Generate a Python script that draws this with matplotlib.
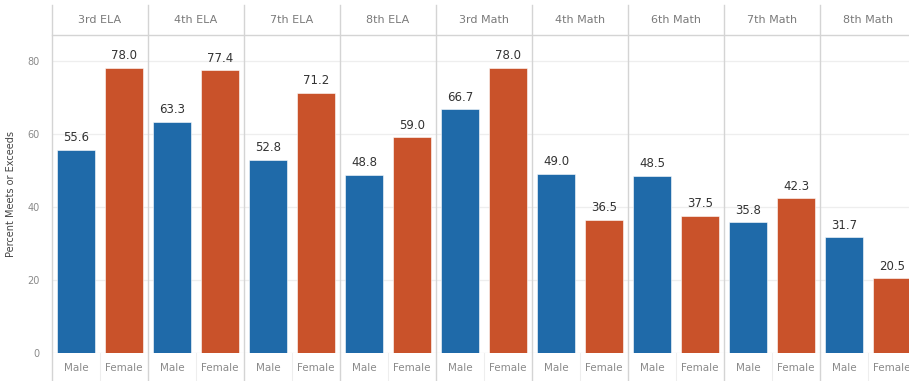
import matplotlib
matplotlib.use("Agg")
import matplotlib.pyplot as plt
import numpy as np

# chart data
subjects = ["3rd ELA", "4th ELA", "7th ELA", "8th ELA", "3rd Math",
            "4th Math", "6th Math", "7th Math", "8th Math"]
genders = ["Male", "Female"]
male_pct = [55.6, 63.3, 52.8, 48.8, 66.7, 49.0, 48.5, 35.8, 31.7]
female_pct = [78.0, 77.4, 71.2, 59.0, 78.0, 36.5, 37.5, 42.3, 20.5]
y_ticks = [0, 20, 40, 60, 80]

BLUE = "#1f6aa9"
ORANGE = "#c9522a"
LINE = "#d4d4d4"

fig = plt.figure(figsize=(9.09, 3.81), dpi=100)
# panels are ~96px wide; the last one runs slightly past the right edge
ax = fig.add_axes([52 / 909, 28 / 381, 864 / 909, 318 / 381])

n = len(subjects)
pos = np.arange(n)
bw = 0.39
male_bars = ax.bar(pos + 0.25, male_pct, bw, color=BLUE, edgecolor="white", linewidth=0.4, zorder=3)
female_bars = ax.bar(pos + 0.75, female_pct, bw, color=ORANGE, edgecolor="white", linewidth=0.4, zorder=3)

# value labels above bars
for bars in (male_bars, female_bars):
    for b in bars:
        h = b.get_height()
        ax.annotate(f"{h:.1f}", (b.get_x() + b.get_width() / 2, h),
                    xytext=(0, 4), textcoords="offset points",
                    ha="center", va="bottom", fontsize=8.5, color="#333333")

ax.set_xlim(0, n)
ax.set_ylim(0, 87)
ax.set_yticks(y_ticks)
ax.set_yticklabels([str(t) for t in y_ticks])
ax.tick_params(axis="y", length=0, pad=9, labelsize=7, labelcolor="#8a8a8a")

xt = np.concatenate([pos + 0.25, pos + 0.75])
xl = [genders[0]] * n + [genders[1]] * n
ax.set_xticks(xt)
ax.set_xticklabels(xl)
ax.tick_params(axis="x", length=0, pad=7, labelsize=7.5, labelcolor="#8a8a8a")

ax.set_ylabel("Percent Meets or Exceeds", fontsize=7, color="#444444", labelpad=8)

for s in ax.spines.values():
    s.set_visible(False)

ax.grid(axis="y", color="#eeeeee", linewidth=0.9, zorder=0)

# header row and panel dividers
ax_h = 318
for i in range(n + 1):
    ax.axvline(i, ymin=-28 / ax_h, ymax=1 + 30 / ax_h, color=LINE, linewidth=1.0, clip_on=False, zorder=4)
for i in range(n):
    ax.axvline(i + 0.5, ymin=-28 / ax_h, ymax=0, color="#eeeeee", linewidth=0.8, clip_on=False)
    ax.text(i + 0.5, 1 + 15 / ax_h, subjects[i], transform=ax.get_xaxis_transform(),
            ha="center", va="center", fontsize=8, color="#7a7a7a")
ax.axhline(87, color=LINE, linewidth=1.0, clip_on=False, zorder=4)

fig.savefig("out.png", dpi=100)
